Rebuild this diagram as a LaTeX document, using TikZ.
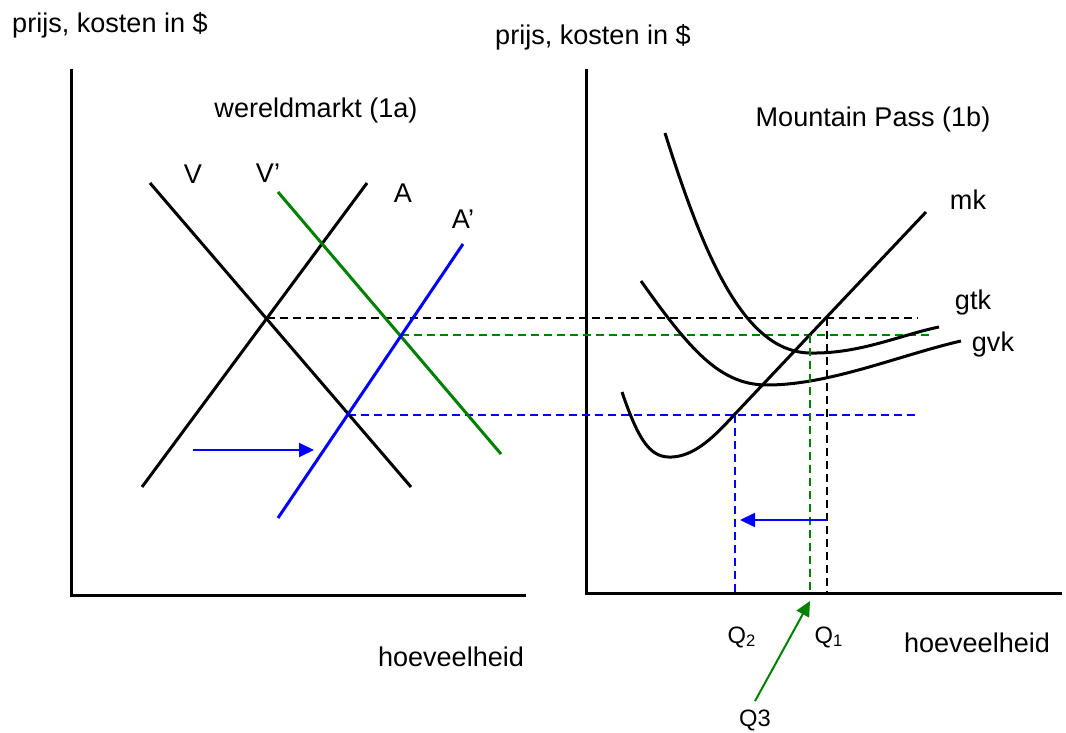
\documentclass[tikz,border=0pt]{standalone}
\usepackage{fontspec}
\setmainfont{Liberation Sans}
\usetikzlibrary{arrows.meta}
\definecolor{grn}{RGB}{0,128,0}
\definecolor{blu}{RGB}{0,0,255}
\tikzset{
  >={Triangle[length=3mm,width=2.8mm]},
  axis/.style={line width=0.6mm},
  curve/.style={draw=#1,line width=0.6mm},
  curve/.default=black,
  guide/.style={draw=#1,line width=0.3mm,dash pattern=on 1.6mm off 1mm},
  guide/.default=black,
  move arrow/.style={->,draw=#1,line width=0.4mm},
  move arrow/.default=blu,
  tag/.style={font=\fontsize{15.4}{18}\selectfont,inner sep=0pt},
  qtag/.style={font=\fontsize{13.5}{16}\selectfont,inner sep=0pt},
}
\begin{document}
\begin{tikzpicture}[x=0.2mm,y=-0.2mm]
  \useasboundingbox (0,0) rectangle (1066,733);
  % assen
  \draw[axis] (71,69) -- (71,595) -- (526,595);
  \draw[axis] (586,69) -- (586,593) -- (1062,593);
  \node[tag] (yl) at (110,25) {prijs, kosten in \$};
  \node[tag] (yr) at (593,37) {prijs, kosten in \$};
  \node[tag] (xl) at (451,657) {hoeveelheid};
  \node[tag] (xr) at (977,643) {hoeveelheid};
  \node[tag] (t1) at (316,110) {wereldmarkt (1a)};
  \node[tag] (t2) at (873,119) {Mountain Pass (1b)};
  % wereldmarkt
  \coordinate (v1) at (150,183); \coordinate (v2) at (411,487);
  \coordinate (a1) at (142,487); \coordinate (a2) at (367,183);
  \coordinate (vp1) at (278,192); \coordinate (vp2) at (501,454);
  \coordinate (ap1) at (278,518); \coordinate (ap2) at (463,244);
  \coordinate (e0) at (266.6,318); \coordinate (e1) at (400.7,335);
  \coordinate (e2) at (348.3,415);
  \draw[guide] (e0) -- (918,318);
  \draw[guide=grn] (e1) -- (931,335);
  \draw[guide=blu] (e2) -- (918,415);
  \draw[curve] (v1) -- (v2);
  \draw[curve] (a1) -- (a2);
  \draw[curve=grn] (vp1) -- (vp2);
  \draw[curve=blu] (ap1) -- (ap2);
  \node[tag] (lv) at (193,174) {V};
  \node[tag] (lvp) at (268,173) {V’};
  \node[tag] (la) at (403,193) {A};
  \node[tag] (lap) at (463,219) {A’};
  \coordinate (s1) at (193,450); \coordinate (s2) at (314,450);
  \draw[move arrow] (s1) -- (s2);
  % Mountain Pass
  \draw[curve] (622,392) .. controls (640,445) and (652,458) .. (672,457)
    .. controls (695,456) and (715,436) .. (735,414) -- (926,212);
  \draw[curve] (665,133) .. controls (705,260) and (745,352) .. (810,353)
    .. controls (860,354) and (900,335) .. (939,327);
  \draw[curve] (641,281) .. controls (690,350) and (720,385) .. (767,385)
    .. controls (830,385) and (900,355) .. (961,341);
  \node[tag] (lmk) at (968,200) {mk};
  \node[tag] (lgtk) at (973,303) {gtk};
  \node[tag] (lgvk) at (993,345) {gvk};
  \draw[guide] (827,318) -- (827,593);
  \draw[guide=grn] (810,335) -- (810,593);
  \draw[guide=blu] (735,415) -- (735,593);
  \coordinate (r1) at (827,520); \coordinate (r2) at (740,520);
  \draw[move arrow] (r1) -- (r2);
  \node[qtag] (q2) at (742,637) {Q\textsubscript{2}};
  \node[qtag] (q1) at (829,637) {Q\textsubscript{1}};
  \node[qtag] (q3) at (755,720) {Q3};
  \draw[move arrow=grn] (q3.north) ++(0,-8) -- (810,601);
\end{tikzpicture}
\end{document}
